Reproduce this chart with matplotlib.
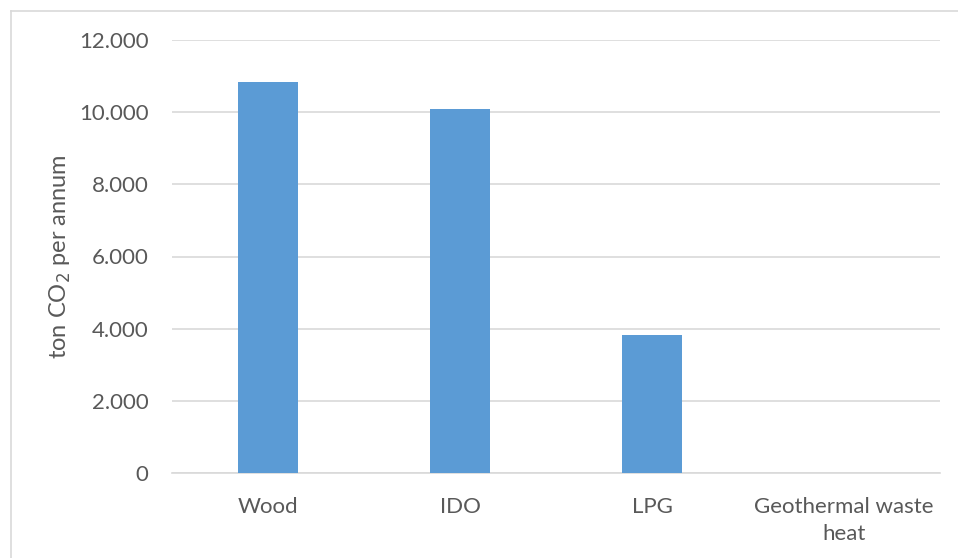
import matplotlib
matplotlib.use("Agg")
import matplotlib.pyplot as plt
from matplotlib.lines import Line2D
from matplotlib.ticker import FuncFormatter

categories = ["Wood", "IDO", "LPG", "Geothermal waste\nheat"]
emissions = [10830, 10080, 3825, 0]
yticks = [0, 2000, 4000, 6000, 8000, 10000, 12000]

plt.rcParams["font.family"] = ["Lato", "DejaVu Sans"]
text_color = "#595959"

fig = plt.figure(figsize=(9.58, 5.58), dpi=100)
ax = fig.add_axes([172 / 958, 1 - 473 / 558, 768 / 958, 433 / 558])

x = range(len(categories))
ax.bar(x, emissions, width=0.31, color="#5B9BD5", zorder=3)

ax.set_xlim(-0.5, len(categories) - 0.5)
ax.set_ylim(0, 12000)
ax.set_yticks(yticks)
ax.yaxis.set_major_formatter(FuncFormatter(lambda v, p: f"{int(v):,}".replace(",", ".")))
ax.set_xticks(list(x))
ax.set_xticklabels(categories, linespacing=1.45)

ax.grid(axis="y", color="#D9D9D9", linewidth=1.2, zorder=0)
for side in ["top", "right", "left"]:
    ax.spines[side].set_visible(False)
ax.spines["bottom"].set_color("#D9D9D9")
ax.spines["bottom"].set_linewidth(1.2)
ax.tick_params(axis="both", length=0, labelsize=16, colors=text_color)
ax.tick_params(axis="y", pad=17)
ax.tick_params(axis="x", pad=17)

ax.set_ylabel("ton CO$_2$ per annum", fontsize=17, color=text_color, labelpad=4)

# light frame edges along the top and left of the chart area
top = 1 - 10.5 / 558
left = 10.5 / 958
fig.lines.append(Line2D([left, 1], [top, top], transform=fig.transFigure,
                        color="#D9D9D9", linewidth=1.2))
fig.lines.append(Line2D([left, left], [0, top], transform=fig.transFigure,
                        color="#D9D9D9", linewidth=1.2))

fig.savefig("out.png", dpi=100)
